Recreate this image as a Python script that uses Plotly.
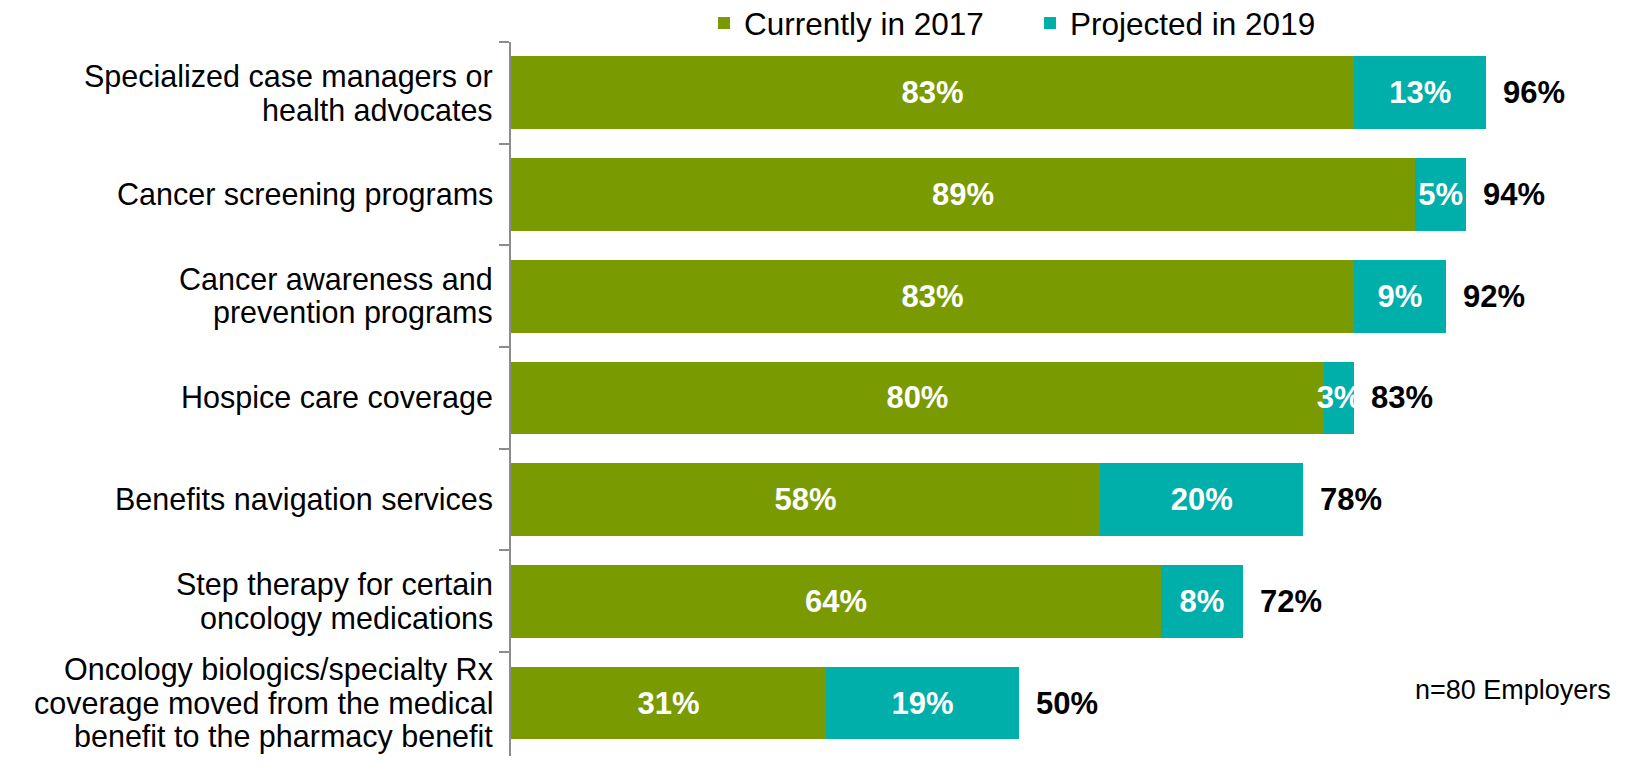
import plotly.graph_objects as go

# Oncology-related benefits offered by employers
categories = [
    "Specialized case managers or<br>health advocates",
    "Cancer screening programs",
    "Cancer awareness and<br>prevention programs",
    "Hospice care coverage",
    "Benefits navigation services",
    "Step therapy for certain<br>oncology medications",
    "Oncology biologics/specialty Rx<br>coverage moved from the medical<br>benefit to the pharmacy benefit",
]
current_2017 = [83, 89, 83, 80, 58, 64, 31]
projected_2019 = [13, 5, 9, 3, 20, 8, 19]
totals = [c + p for c, p in zip(current_2017, projected_2019)]

series_names = ["Currently in 2017", "Projected in 2019"]
note_text = "n=80 Employers"

GREEN = "#7A9A01"
TEAL = "#00AEAA"
AXIS_GRAY = "#8C8C8C"
FONT = "Arial, Liberation Sans, sans-serif"

W, H = 1636, 770
M_L, M_R, M_T, M_B = 511, 109, 42, 14
plot_w = W - M_L - M_R
plot_h = H - M_T - M_B

fig = go.Figure()

for name, vals, color in [(series_names[0], current_2017, GREEN),
                          (series_names[1], projected_2019, TEAL)]:
    fig.add_trace(go.Bar(
        name=name,
        y=categories,
        x=vals,
        orientation="h",
        marker=dict(color=color, line=dict(width=0)),
        texttemplate="%{x}%",
        textposition="inside",
        insidetextanchor="middle",
        textangle=0,
        constraintext="none",
        textfont=dict(family=FONT, size=31, color="white", weight="bold"),
        hoverinfo="skip",
    ))

annotations = []

# Totals to the right of each stacked bar
for cat, tot in zip(categories, totals):
    annotations.append(dict(
        x=tot, y=cat, xref="x", yref="y",
        text=f"<b>{tot}%</b>", showarrow=False,
        xanchor="left", yanchor="middle", xshift=15,
        font=dict(family=FONT, size=31, color="black"),
    ))

# Category labels, one annotation per line for tight line spacing
LINE_STEP = 33.5
for cat in categories:
    lines = cat.split("<br>")
    n = len(lines)
    for i, line in enumerate(lines):
        annotations.append(dict(
            x=0, y=cat, xref="paper", yref="y",
            text=line, showarrow=False,
            xanchor="right", yanchor="middle", xshift=-16,
            yshift=-(i - (n - 1) / 2) * LINE_STEP,
            font=dict(family=FONT, size=30.5, color="black"),
        ))

# Sample size note
annotations.append(dict(
    x=(1613 - M_L) / plot_w, y=(H - M_B - 690) / plot_h,
    xref="paper", yref="paper", text=note_text, showarrow=False,
    xanchor="right", yanchor="middle",
    font=dict(family=FONT, size=27, color="black"),
))

fig.update_layout(
    width=W, height=H,
    margin=dict(l=M_L, r=M_R, t=M_T, b=M_B, pad=0, autoexpand=False),
    barmode="stack",
    bargap=0.284,
    paper_bgcolor="white",
    plot_bgcolor="white",
    font=dict(family=FONT, color="black"),
    showlegend=True,
    legend=dict(
        orientation="h",
        x=(704 - M_L) / plot_w, xanchor="left",
        y=1 + (M_T - 23) / plot_h, yanchor="middle",
        font=dict(family=FONT, size=31.5, color="black"),
        entrywidth=281, entrywidthmode="pixels",
        bgcolor="rgba(0,0,0,0)",
        traceorder="normal",
    ),
    xaxis=dict(
        range=[0, 100], showgrid=False, zeroline=False,
        showline=False, showticklabels=False, ticks="",
    ),
    yaxis=dict(
        type="category",
        categoryorder="array", categoryarray=categories,
        autorange="reversed",
        showgrid=False, zeroline=False,
        showline=True, linecolor=AXIS_GRAY, linewidth=1.5,
        ticks="outside", tickson="boundaries",
        ticklen=10, tickwidth=1.5, tickcolor=AXIS_GRAY,
        showticklabels=False,
    ),
    annotations=annotations,
)

fig.write_html("out.html")
